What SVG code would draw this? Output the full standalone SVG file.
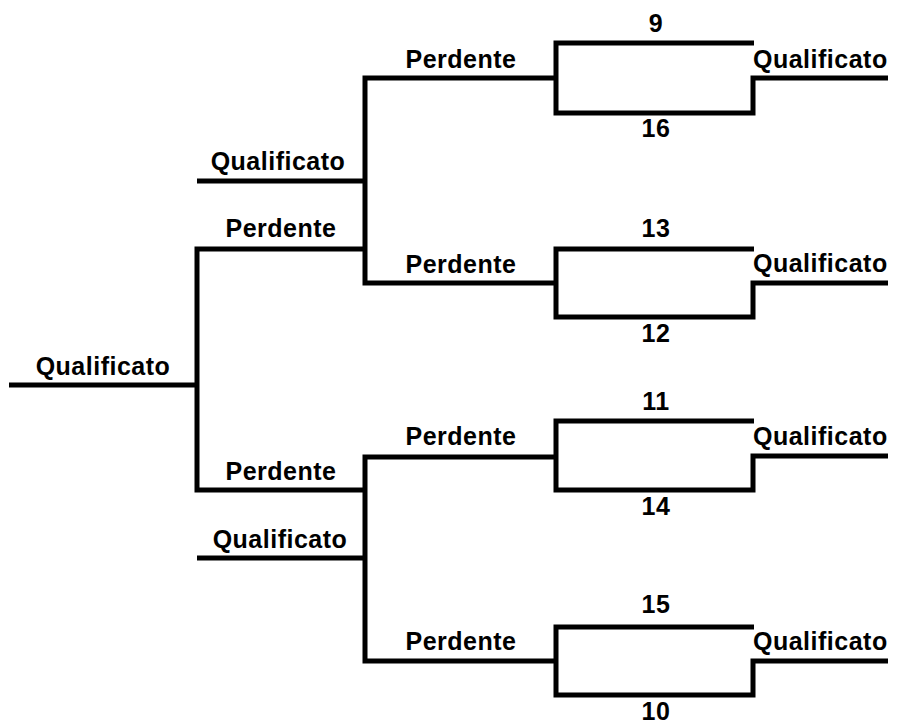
<svg xmlns="http://www.w3.org/2000/svg" width="897" height="726" viewBox="0 0 897 726">
<style>
.ln{fill:none;stroke:#000;stroke-width:5;stroke-linejoin:miter;stroke-linecap:butt}
text{font-family:"Liberation Sans",Arial,sans-serif;font-weight:bold;font-size:25px;letter-spacing:0.5px;fill:#000}
.m{text-anchor:middle}
.s{text-anchor:start}
</style>
<rect width="897" height="726" fill="#fff"/>
<g id="connectors">
<path class="ln" d="M9,385 H197"/>
<path class="ln" d="M365,249 H197 V490 H365"/>
<path class="ln" d="M197,181 H365"/>
<path class="ln" d="M197,558 H365"/>
<path class="ln" d="M556,78 H365 V283 H556"/>
<path class="ln" d="M556,457 H365 V661 H556"/>
</g>
<g id="match1"><path class="ln" d="M754,43 H556 V113 H753 V78 H888"/><text class="m" x="656" y="32">9</text><text class="m" x="656" y="137">16</text><text class="s" x="753" y="68">Qualificato</text></g>
<g id="match2"><path class="ln" d="M754,249 H556 V317 H753 V283 H888"/><text class="m" x="656" y="237">13</text><text class="m" x="656" y="342">12</text><text class="s" x="753" y="272">Qualificato</text></g>
<g id="match3"><path class="ln" d="M754,421 H556 V490 H753 V456 H888"/><text class="m" x="656" y="410">11</text><text class="m" x="656" y="515">14</text><text class="s" x="753" y="445">Qualificato</text></g>
<g id="match4"><path class="ln" d="M754,627 H556 V695 H753 V661 H888"/><text class="m" x="656" y="613">15</text><text class="m" x="656" y="720">10</text><text class="s" x="753" y="650">Qualificato</text></g>
<g id="label-p1"><text class="m" x="461" y="68">Perdente</text></g>
<g id="label-p2"><text class="m" x="461" y="273">Perdente</text></g>
<g id="label-p3"><text class="m" x="461" y="445">Perdente</text></g>
<g id="label-p4"><text class="m" x="461" y="650">Perdente</text></g>
<g id="label-p5"><text class="m" x="281" y="237">Perdente</text></g>
<g id="label-p6"><text class="m" x="281" y="480">Perdente</text></g>
<g id="label-q1"><text class="m" x="278" y="170">Qualificato</text></g>
<g id="label-q2"><text class="m" x="280" y="548">Qualificato</text></g>
<g id="label-q3"><text class="m" x="103" y="375">Qualificato</text></g>
</svg>
